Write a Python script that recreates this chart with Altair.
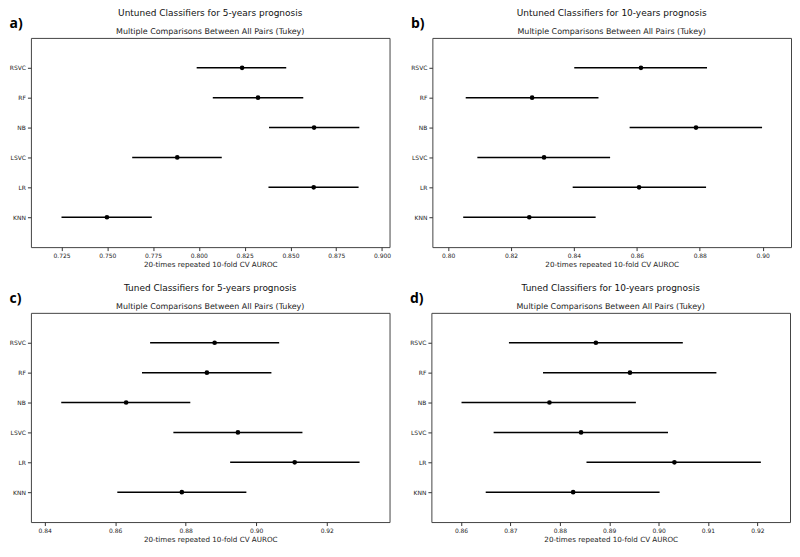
import altair as alt
import pandas as pd

models = ["KNN", "LR", "LSVC", "NB", "RF", "RSVC"]
order_top_down = ["RSVC", "RF", "NB", "LSVC", "LR", "KNN"]

# Panel a) Untuned, 5-years
a_mean = [0.7498, 0.8627, 0.7882, 0.8629, 0.8323, 0.8236]
a_low = [0.7250, 0.8380, 0.7636, 0.8383, 0.8076, 0.7988]
a_high = [0.7743, 0.8872, 0.8125, 0.8876, 0.8570, 0.8477]
a_ticks = [0.725, 0.750, 0.775, 0.800, 0.825, 0.850, 0.875, 0.900]

# Panel b) Untuned, 10-years
b_mean = [0.8258, 0.8607, 0.8305, 0.8788, 0.8267, 0.8613]
b_low = [0.8048, 0.8396, 0.8093, 0.8577, 0.8056, 0.8401]
b_high = [0.8469, 0.8820, 0.8515, 0.8998, 0.8478, 0.8823]
b_ticks = [0.80, 0.82, 0.84, 0.86, 0.88, 0.90]

# Panel c) Tuned, 5-years
c_mean = [0.8789, 0.9109, 0.8948, 0.8631, 0.8860, 0.8882]
c_low = [0.8606, 0.8926, 0.8765, 0.8447, 0.8676, 0.8699]
c_high = [0.8972, 0.9293, 0.9131, 0.8813, 0.9043, 0.9065]
c_ticks = [0.84, 0.86, 0.88, 0.90, 0.92]

# Panel d) Tuned, 10-years
d_mean = [0.8827, 0.9032, 0.8843, 0.8779, 0.8942, 0.8873]
d_low = [0.8650, 0.8854, 0.8666, 0.8601, 0.8766, 0.8697]
d_high = [0.9002, 0.9207, 0.9019, 0.8954, 0.9117, 0.9049]
d_ticks = [0.86, 0.87, 0.88, 0.89, 0.90, 0.91, 0.92]

subtitle = "Multiple Comparisons Between All Pairs (Tukey)"
xtitle = "20-times repeated 10-fold CV AUROC"
FONT = "DejaVu Sans"
W, H = 360, 210


def panel(title, letter, mean, low, high, ticks, domain, fmt):
    df = pd.DataFrame({"model": models, "mean": mean, "low": low, "high": high})
    base = alt.Chart(df)
    y = alt.Y("model:N", sort=order_top_down,
              scale=alt.Scale(type="point", padding=1),
              axis=alt.Axis(title=None, labelFont=FONT, labelFontSize=6,
                            labelColor="#222", tickSize=3.5, tickColor="#333",
                            labelPadding=2, domain=False, grid=False))
    xscale = alt.Scale(domain=domain, nice=False, zero=False)
    xaxis = alt.Axis(values=ticks, format=fmt, title=xtitle, labelFont=FONT,
                     labelFontSize=6, labelColor="#222", titleFont=FONT,
                     titleFontSize=7.2, titleFontWeight="normal", titleColor="#222",
                     tickSize=3.5, tickColor="#333", labelPadding=2,
                     titlePadding=2, domain=False, grid=False, labelFlush=False)
    rules = base.mark_rule(color="black", strokeWidth=1.5).encode(
        x=alt.X("low:Q", scale=xscale, axis=xaxis), x2="high:Q", y=y)
    pts = base.mark_circle(color="black", size=22, opacity=1).encode(
        x=alt.X("mean:Q", scale=xscale), y=y)
    lab = alt.Chart(alt.Data(values=[{}])).mark_text(
        text=letter, font="Open Sans", fontWeight="bold", fontSize=14,
        align="left", baseline="middle", color="black").encode(
        x=alt.value(-21.5), y=alt.value(-13.5))
    return alt.layer(rules, pts, lab).properties(
        width=W, height=H,
        title=alt.TitleParams(text=title, subtitle=subtitle, font=FONT,
                              fontSize=9, fontWeight="normal", color="#111",
                              subtitleFont=FONT, subtitleFontSize=8,
                              subtitleColor="#222", subtitlePadding=10,
                              anchor="middle", offset=-19))


pa = panel("Untuned Classifiers for 5-years prognosis", "a)", a_mean, a_low, a_high,
           a_ticks, [0.7083, 0.9041], ".3f")
pb = panel("Untuned Classifiers for 10-years prognosis", "b)", b_mean, b_low, b_high,
           b_ticks, [0.795, 0.909], ".2f")
pc = panel("Tuned Classifiers for 5-years prognosis", "c)", c_mean, c_low, c_high,
           c_ticks, [0.8361, 0.9378], ".2f")
pd_ = panel("Tuned Classifiers for 10-years prognosis", "d)", d_mean, d_low, d_high,
            d_ticks, [0.8540, 0.9266], ".2f")

chart = alt.vconcat(
    alt.hconcat(pa, pb, spacing=18),
    alt.hconcat(pc, pd_, spacing=18),
    spacing=15,
).properties(padding=0, background="white").configure_view(
    stroke="#444", strokeWidth=1
)

chart.save("out.html", embed_options={"renderer": "svg", "actions": False})
